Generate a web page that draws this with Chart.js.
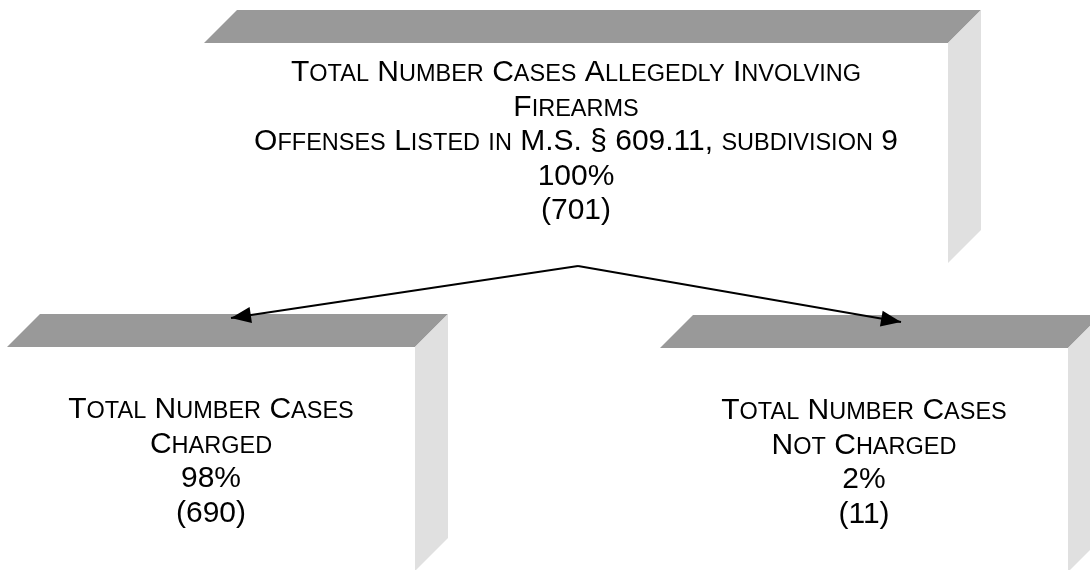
<!DOCTYPE html>
<html>
<head>
<meta charset="utf-8">
<script src="https://cdn.jsdelivr.net/npm/chart.js@4"></script>
<style>
  html, body { margin: 0; padding: 0; background: #fff; }
</style>
</head>
<body>
<canvas id="flowChart" width="1090" height="570"></canvas>
<script>
// box texts (lowercase letters get drawn as small caps)
const boxTitles = [
    ['Total Number Cases Allegedly Involving', 'Firearms', 'Offenses Listed in M.S. § 609.11, subdivision 9'],
    ['Total Number Cases', 'Charged'],
    ['Total Number Cases', 'Not Charged']
];
const boxPercents = [100, 98, 2];
const boxCounts = [701, 690, 11];

// layout, in axis units (axes run 0..1090 and 0..570 like the picture)
const boxFrames = [
    { x: 204, y: 43, w: 744, h: 220, firstLine: 81 },
    { x: 7, y: 347, w: 408, h: 224, firstLine: 418 },
    { x: 660, y: 348, w: 408, h: 224, firstLine: 419 }
];
const boxDepth = 33;
const arrowStart = { x: 578, y: 266 };
const arrowEnds = [{ x: 231, y: 318 }, { x: 901, y: 322 }];

const FONT = '"Liberation Sans", Arial, sans-serif';
const BIG = 30, SMALL = 23.5, LINE_GAP = 34.5;

function drawSmallCaps(ctx, text, cx, baseline) {
    // split into runs of big / small letters
    const runs = [];
    for (const ch of text) {
        const small = ch !== ch.toUpperCase();
        const last = runs[runs.length - 1];
        if (last && last.small === small) last.t += ch;
        else runs.push({ t: ch, small: small });
    }
    let total = 0;
    runs.forEach(r => {
        ctx.font = (r.small ? SMALL : BIG) + 'px ' + FONT;
        r.t = r.small ? r.t.toUpperCase() : r.t;
        r.w = ctx.measureText(r.t).width;
        total += r.w;
    });
    let x = cx - total / 2;
    runs.forEach(r => {
        ctx.font = (r.small ? SMALL : BIG) + 'px ' + FONT;
        ctx.fillText(r.t, x, baseline);
        x += r.w;
    });
}

const boxesPlugin = {
    id: 'boxes',
    beforeDatasetsDraw(chart) {
        const ctx = chart.ctx;
        const sx = chart.scales.x, sy = chart.scales.y;
        const px = v => sx.getPixelForValue(v);
        const py = v => sy.getPixelForValue(v);
        ctx.save();
        boxFrames.forEach((b, i) => {
            const l = px(b.x), r = px(b.x + b.w), t = py(b.y), bt = py(b.y + b.h);
            const d = px(b.x + boxDepth) - l;
            // front face
            ctx.fillStyle = '#ffffff';
            ctx.fillRect(l, t, r - l, bt - t);
            // top face
            ctx.fillStyle = '#999999';
            ctx.beginPath();
            ctx.moveTo(l, t);
            ctx.lineTo(l + d, t - d);
            ctx.lineTo(r + d, t - d);
            ctx.lineTo(r, t);
            ctx.closePath();
            ctx.fill();
            // side face
            ctx.fillStyle = '#e0e0e0';
            ctx.beginPath();
            ctx.moveTo(r, t);
            ctx.lineTo(r + d, t - d);
            ctx.lineTo(r + d, bt - d);
            ctx.lineTo(r, bt);
            ctx.closePath();
            ctx.fill();

            // text
            const lines = boxTitles[i].concat([boxPercents[i] + '%', '(' + boxCounts[i] + ')']);
            ctx.fillStyle = '#000000';
            ctx.textBaseline = 'alphabetic';
            ctx.textAlign = 'left';
            const cx = px(b.x + b.w / 2);
            lines.forEach((ln, k) => {
                drawSmallCaps(ctx, ln, cx, py(b.firstLine + k * LINE_GAP));
            });
        });
        ctx.restore();
    },
    afterDatasetsDraw(chart) {
        const ctx = chart.ctx;
        const sx = chart.scales.x, sy = chart.scales.y;
        ctx.save();
        ctx.fillStyle = '#000000';
        arrowEnds.forEach(e => {
            const x0 = sx.getPixelForValue(arrowStart.x), y0 = sy.getPixelForValue(arrowStart.y);
            const x1 = sx.getPixelForValue(e.x), y1 = sy.getPixelForValue(e.y);
            const a = Math.atan2(y1 - y0, x1 - x0);
            const len = 20, half = 8;
            const bx = x1 - len * Math.cos(a), by = y1 - len * Math.sin(a);
            ctx.beginPath();
            ctx.moveTo(x1, y1);
            ctx.lineTo(bx + half * Math.sin(a), by - half * Math.cos(a));
            ctx.lineTo(bx - half * Math.sin(a), by + half * Math.cos(a));
            ctx.closePath();
            ctx.fill();
        });
        ctx.restore();
    }
};

const arrowSets = arrowEnds.map(e => ({
    data: [arrowStart, e],
    showLine: true,
    borderColor: '#000000',
    borderWidth: 2,
    pointRadius: 0,
    fill: false
}));

const flowChart = new Chart(document.getElementById('flowChart'), {
    type: 'scatter',
    data: { datasets: arrowSets },
    options: {
        responsive: false,
        animation: false,
        layout: { padding: 0 },
        plugins: { legend: { display: false }, tooltip: { enabled: false } },
        scales: {
            x: { type: 'linear', min: 0, max: 1090, display: false },
            y: { type: 'linear', min: 0, max: 570, reverse: true, display: false }
        }
    },
    plugins: [boxesPlugin]
});
</script>
</body>
</html>
